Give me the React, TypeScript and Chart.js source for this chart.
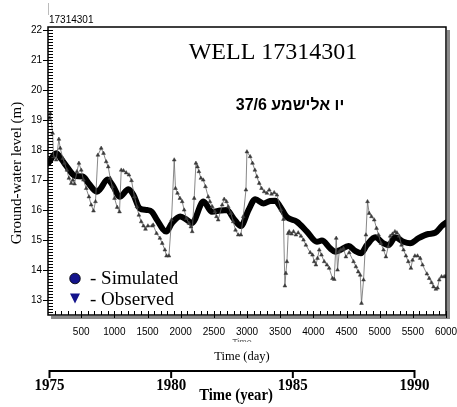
import { useEffect, useRef } from "react";
import { Chart, registerables } from "chart.js";

Chart.register(...registerables);

// ---- Data ----
const simDays = [5, 124, 200, 285, 360, 410, 526, 611, 737, 787, 897, 987, 1078, 1214, 1289, 1380, 1491, 1566, 1642, 1782, 1868, 1993, 2094, 2169, 2344, 2471, 2596, 2697, 2797, 2908, 3023, 3124, 3249, 3350, 3425, 3501, 3602, 3752, 3903, 4054, 4129, 4255, 4330, 4405, 4530, 4631, 4717, 4808, 4933, 5058, 5134, 5234, 5360, 5460, 5586, 5736, 5837, 5938, 6000];
const simLevels = [17.56, 17.89, 17.7, 17.44, 17.22, 17.13, 17.12, 16.89, 16.61, 16.7, 17.02, 16.78, 16.44, 16.69, 16.5, 16.06, 16.0, 15.94, 15.67, 15.28, 15.56, 15.78, 15.67, 15.56, 16.28, 15.94, 15.98, 16.0, 15.72, 15.47, 16.0, 16.36, 16.22, 16.3, 16.31, 16.11, 15.76, 15.61, 15.28, 14.94, 14.98, 14.72, 14.61, 14.67, 14.8, 14.64, 14.56, 14.83, 15.09, 14.89, 14.83, 15.09, 14.94, 14.89, 15.06, 15.2, 15.24, 15.47, 15.58];

const obsDays = [20, 35, 70, 83, 124, 164, 184, 225, 249, 285, 315, 350, 375, 400, 436, 466, 501, 535, 576, 617, 651, 686, 716, 752, 802, 837, 877, 908, 938, 968, 1003, 1043, 1078, 1104, 1138, 1179, 1220, 1259, 1304, 1340, 1370, 1405, 1440, 1470, 1506, 1571, 1586, 1636, 1687, 1722, 1762, 1787, 1823, 1862, 1903, 1922, 1952, 1989, 2023, 2053, 2088, 2124, 2154, 2174, 2204, 2230, 2254, 2275, 2305, 2340, 2374, 2415, 2441, 2476, 2516, 2540, 2566, 2626, 2656, 2691, 2717, 2757, 2792, 2827, 2868, 2908, 2943, 2984, 2999, 3048, 3083, 3119, 3149, 3184, 3219, 3259, 3300, 3335, 3370, 3410, 3451, 3511, 3550, 3571, 3586, 3602, 3621, 3636, 3671, 3701, 3737, 3772, 3813, 3852, 3888, 3953, 3988, 4013, 4039, 4063, 4089, 4123, 4164, 4205, 4239, 4289, 4315, 4345, 4365, 4390, 4416, 4455, 4491, 4541, 4606, 4642, 4677, 4707, 4726, 4757, 4793, 4817, 4842, 4877, 4918, 4953, 4983, 5019, 5058, 5094, 5129, 5159, 5194, 5230, 5260, 5295, 5330, 5360, 5396, 5431, 5471, 5495, 5531, 5571, 5611, 5646, 5712, 5747, 5782, 5812, 5848, 5872, 5898, 5933, 5973, 5999];
const obsLevels = [19.06, 19.22, 18.56, 17.78, 17.67, 18.36, 18.06, 17.72, 17.56, 17.33, 17.06, 16.89, 17.0, 16.87, 17.28, 17.56, 17.33, 17.0, 16.72, 16.44, 16.17, 15.97, 16.28, 17.83, 18.06, 17.89, 17.61, 17.44, 17.06, 16.78, 16.39, 16.09, 15.94, 17.33, 17.31, 17.24, 17.17, 16.98, 16.44, 16.11, 15.83, 15.61, 15.47, 15.36, 15.47, 15.47, 15.5, 15.22, 15.06, 14.89, 14.67, 14.47, 14.47, 15.67, 17.67, 16.72, 16.56, 16.39, 16.28, 16.0, 15.72, 15.56, 15.44, 15.28, 16.39, 17.56, 17.44, 17.28, 17.06, 17.0, 16.78, 16.44, 16.28, 16.11, 15.94, 15.78, 15.67, 16.17, 16.36, 16.28, 16.11, 15.89, 15.61, 15.33, 15.17, 15.17, 15.78, 16.67, 17.94, 17.78, 17.56, 17.33, 17.11, 16.89, 16.72, 16.61, 16.56, 16.67, 16.53, 16.58, 16.5, 16.0, 15.69, 13.47, 13.89, 14.28, 15.22, 15.28, 15.2, 15.28, 15.17, 15.24, 15.13, 15.0, 14.83, 14.58, 14.5, 14.28, 14.17, 14.39, 14.67, 14.5, 14.28, 14.17, 14.06, 13.72, 13.69, 15.06, 14.0, 14.61, 14.67, 14.72, 14.44, 14.58, 14.28, 14.11, 13.94, 13.83, 12.89, 13.67, 15.17, 16.28, 15.89, 15.78, 15.67, 15.39, 15.17, 14.89, 14.67, 14.44, 14.78, 15.13, 15.2, 15.28, 15.24, 15.13, 14.83, 14.67, 14.47, 14.28, 14.06, 14.33, 14.47, 14.47, 14.39, 14.17, 13.87, 13.72, 13.58, 13.44, 13.36, 13.4, 13.67, 13.78, 13.78, 13.78];

const yTickLabels = [13, 14, 15, 16, 17, 18, 19, 20, 21, 22];
const xTickLabels = [500, 1000, 1500, 2000, 2500, 3000, 3500, 4000, 4500, 5000, 5500, 6000];
const yearLabels = [1975, 1980, 1985, 1990];

const wellTitle = "WELL 17314301";
const wellId = "17314301";
const hebrewLabel = "יו אלישמע 37/6";
const yTitle = "Ground-water level (m)";
const xTitle = "Time (day)";
const yearTitle = "Time (year)";
const legendSim = "- Simulated";
const legendObs = "- Observed";

const SERIF = "'Liberation Serif', 'Times New Roman', serif";
const SANS = "'Liberation Sans', Arial, 'DejaVu Sans', sans-serif";

const overlay = {
  id: "overlay",
  beforeDatasetsDraw(chart: any) {
    const ctx = chart.ctx;
    const { left, right, top, bottom } = chart.chartArea;
    ctx.save();
    // drop shadow
    ctx.fillStyle = "#8a8a8a";
    ctx.fillRect(right + 1, top + 3, 3, bottom - top + 1);
    ctx.fillRect(left + 3, bottom + 1, right - left + 1, 3);
    ctx.restore();
  },
  afterDraw(chart: any) {
    const ctx = chart.ctx;
    const { left, right, top, bottom } = chart.chartArea;
    const xs = chart.scales.x;
    const ys = chart.scales.y;
    ctx.save();

    // frame
    ctx.strokeStyle = "#000";
    ctx.lineWidth = 1.5;
    ctx.strokeRect(left, top, right - left, bottom - top);

    // y ticks
    ctx.lineWidth = 1;
    ctx.beginPath();
    for (let k = 126; k <= 220; k++) {
      const y = Math.round(ys.getPixelForValue(k / 10)) + 0.5;
      if (k % 10 === 0) {
        ctx.moveTo(left - 5, y);
        ctx.lineTo(left + 5, y);
      } else {
        ctx.moveTo(left, y);
        ctx.lineTo(left + 5, y);
      }
    }
    // x ticks
    for (let d = 100; d <= 6000; d += 100) {
      const x = Math.round(xs.getPixelForValue(d)) + 0.5;
      ctx.moveTo(x, bottom - 4);
      ctx.lineTo(x, d % 500 === 0 ? bottom + 3 : bottom);
    }
    ctx.stroke();

    // y tick labels
    ctx.fillStyle = "#000";
    ctx.font = `10px ${SANS}`;
    ctx.textAlign = "right";
    ctx.textBaseline = "middle";
    yTickLabels.forEach((v) => {
      ctx.fillText(String(v), left - 6, ys.getPixelForValue(v));
    });
    // x tick labels
    ctx.textAlign = "center";
    ctx.textBaseline = "middle";
    xTickLabels.forEach((v) => {
      ctx.fillText(String(v), xs.getPixelForValue(v), bottom + 17);
    });

    // clipped small "Time"
    ctx.save();
    ctx.beginPath();
    ctx.rect(0, 0, chart.width, bottom + 27);
    ctx.clip();
    ctx.font = `9px ${SANS}`;
    ctx.textBaseline = "top";
    ctx.fillStyle = "#555";
    ctx.fillText("Time", 242, bottom + 23);
    ctx.restore();

    // x title
    ctx.font = `12.5px ${SERIF}`;
    ctx.fillStyle = "#000";
    ctx.textBaseline = "middle";
    ctx.fillText(xTitle, 242, 357);

    // y title
    ctx.save();
    ctx.translate(17, 173);
    ctx.rotate(-Math.PI / 2);
    ctx.font = `15px ${SERIF}`;
    ctx.textAlign = "center";
    ctx.textBaseline = "middle";
    ctx.fillText(yTitle, 0, 0);
    ctx.restore();

    // top-left id + faint line
    ctx.font = `10px ${SANS}`;
    ctx.textAlign = "left";
    ctx.textBaseline = "middle";
    ctx.fillText(wellId, left + 1, 20.5);
    ctx.strokeStyle = "#bbb";
    ctx.beginPath();
    ctx.moveTo(left + 0.5, 3);
    ctx.lineTo(left + 0.5, 15);
    ctx.stroke();

    // title
    ctx.fillStyle = "#000";
    ctx.font = `24px ${SERIF}`;
    ctx.textAlign = "center";
    ctx.textBaseline = "alphabetic";
    ctx.fillText(wellTitle, 273, 59);

    // hebrew subtitle
    ctx.font = `bold 16px ${SANS}`;
    (ctx as any).direction = "rtl";
    ctx.textAlign = "center";
    ctx.fillText(hebrewLabel, 290, 110);
    (ctx as any).direction = "ltr";

    // legend
    ctx.fillStyle = "#14148c";
    ctx.beginPath();
    ctx.arc(75, 278.5, 5.3, 0, Math.PI * 2);
    ctx.fill();
    ctx.strokeStyle = "#000";
    ctx.lineWidth = 0.8;
    ctx.stroke();
    ctx.beginPath();
    ctx.moveTo(70, 293.5);
    ctx.lineTo(80, 293.5);
    ctx.lineTo(75, 303.5);
    ctx.closePath();
    ctx.fillStyle = "#14148c";
    ctx.fill();
    ctx.fillStyle = "#000";
    ctx.font = `19px ${SERIF}`;
    ctx.textAlign = "left";
    ctx.textBaseline = "alphabetic";
    ctx.fillText(legendSim, 90, 284);
    ctx.fillText(legendObs, 90, 305);

    // year axis
    const yx = (yr: number) => 49.5 + ((yr - 1975) / 15) * (414.5 - 49.5);
    ctx.strokeStyle = "#000";
    ctx.lineWidth = 2;
    ctx.beginPath();
    ctx.moveTo(yx(1975), 371);
    ctx.lineTo(yx(1990), 371);
    yearLabels.forEach((yr) => {
      ctx.moveTo(yx(yr), 370);
      ctx.lineTo(yx(yr), 378);
    });
    ctx.stroke();
    ctx.font = `bold 17px ${SERIF}`;
    ctx.textAlign = "center";
    ctx.textBaseline = "middle";
    yearLabels.forEach((yr) => {
      ctx.save();
      ctx.translate(yx(yr), 386);
      ctx.scale(0.88, 1);
      ctx.fillText(String(yr), 0, 0);
      ctx.restore();
    });
    ctx.save();
    ctx.translate(236, 396);
    ctx.scale(0.92, 1);
    ctx.font = `bold 16px ${SERIF}`;
    ctx.fillText(yearTitle, 0, 0);
    ctx.restore();

    ctx.restore();
  },
};

export default function App() {
  const ref = useRef<HTMLCanvasElement>(null);
  useEffect(() => {
    const canvas = ref.current;
    if (!canvas) return;
    const chart = new Chart(canvas, {
      type: "line",
      data: {
        datasets: [
          {
            label: "Observed",
            data: obsDays.map((d, i) => ({ x: d, y: obsLevels[i] })),
            borderColor: "#6a6a6a",
            borderWidth: 0.8,
            pointStyle: "triangle",
            pointRadius: 2.2,
            pointBackgroundColor: "#3a3a3a",
            pointBorderColor: "#3a3a3a",
            pointBorderWidth: 0.5,
            tension: 0,
          },
          {
            label: "Simulated",
            data: simDays.map((d, i) => ({ x: d, y: simLevels[i] })),
            borderColor: "#000",
            borderWidth: 6,
            pointRadius: 0,
            cubicInterpolationMode: "monotone",
            borderCapStyle: "round",
            borderJoinStyle: "round",
          },
        ],
      },
      options: {
        animation: false,
        responsive: false,
        maintainAspectRatio: false,
        layout: { padding: { left: 48, top: 27, right: 11, bottom: 92 } },
        plugins: { legend: { display: false }, tooltip: { enabled: false }, title: { display: false } },
        scales: {
          x: { type: "linear", min: 0, max: 6000, display: false },
          y: { type: "linear", min: 12.5, max: 22.1, display: false },
        },
      },
      plugins: [overlay],
    });
    return () => chart.destroy();
  }, []);
  return (
    <canvas
      ref={ref}
      width={457}
      height={407}
      style={{ position: "fixed", left: 0, top: 0, width: 457, height: 407, background: "#fff" }}
    />
  );
}
